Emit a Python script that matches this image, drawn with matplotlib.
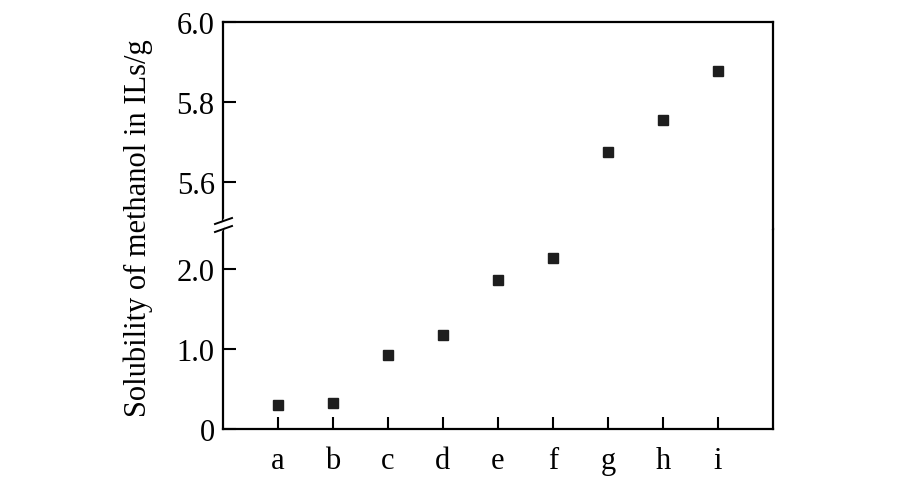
import matplotlib
matplotlib.use('Agg')
import matplotlib.pyplot as plt
from matplotlib.lines import Line2D

plt.rcParams['font.family'] = ['Liberation Serif', 'DejaVu Serif']

# Data
samples = ['a', 'b', 'c', 'd', 'e', 'f', 'g', 'h', 'i']
solubility = [0.30, 0.33, 0.92, 1.17, 1.86, 2.14, 5.675, 5.755, 5.877]
low_ticks = [0, 1.0, 2.0]
low_labels = ['0', '1.0', '2.0']
high_ticks = [5.6, 5.8, 6.0]
high_labels = ['5.6', '5.8', '6.0']

W, H = 900, 489
fig = plt.figure(figsize=(W / 100, H / 100), dpi=100)

left, right = 223 / W, 773 / W
ax_low = fig.add_axes([left, (H - 430) / H, right - left, 200 / H])
ax_high = fig.add_axes([left, (H - 230) / H, right - left, 207 / H])

xs = list(range(1, len(samples) + 1))
for ax in (ax_low, ax_high):
    ax.plot(xs, solubility, 's', color='#1e1e1e', markersize=6.5, linestyle='none')
    ax.set_xlim(0, 10)
    for sp in ax.spines.values():
        sp.set_linewidth(1.6)
    ax.tick_params(axis='y', direction='in', length=9, width=1.5,
                   labelsize=22, right=False, pad=6)

ax_low.set_ylim(0, 2.5)
ax_high.set_ylim(5.4825, 6.0)
ax_low.spines['top'].set_visible(False)
ax_high.spines['bottom'].set_visible(False)

ax_low.set_yticks(low_ticks)
ax_low.set_yticklabels(low_labels)
ax_high.set_yticks(high_ticks)
ax_high.set_yticklabels(high_labels)

ax_low.set_xticks(xs)
ax_low.set_xticklabels(samples)
ax_low.tick_params(axis='x', direction='in', length=9, width=1.5,
                   labelsize=22, top=False, pad=12)
ax_high.set_xticks([])

fig.text(138 / W, 1 - 228 / H, 'Solubility of methanol in ILs/g',
         rotation=90, ha='center', va='center', fontsize=22)

# axis break marks on the left spine
xb = left
yb = 1 - 226 / H
fig.add_artist(Line2D([xb - 2 / W, xb + 2 / W], [yb - 4 / H, yb + 4 / H],
                      color='white', lw=3, transform=fig.transFigure))
for off in (-4, 4):
    fig.add_artist(Line2D([xb - 8 / W, xb + 9 / W],
                          [yb + (off - 3) / H, yb + (off + 3) / H],
                          color='black', lw=1.4, transform=fig.transFigure))

fig.savefig('out.png', dpi=100)
